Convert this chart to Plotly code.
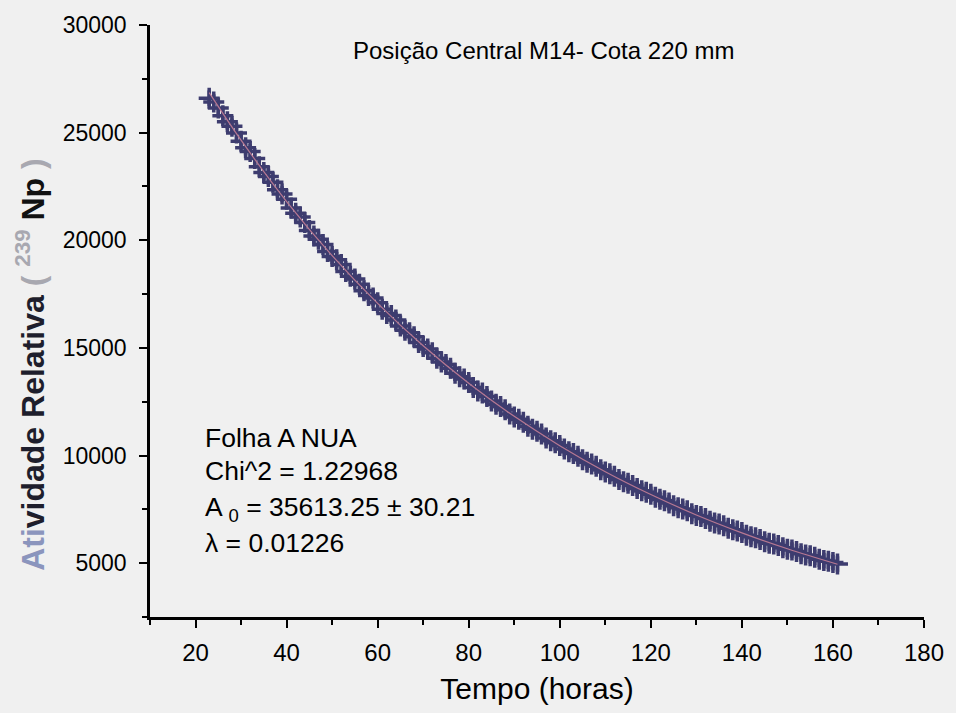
import plotly.graph_objects as go

# Measured data (Tempo in hours, relative activity)
tempo = [23, 24, 25, 26, 27, 28, 29, 30, 31, 32, 33, 34, 35, 36, 37, 38, 39, 40, 41, 42,
         43, 44, 45, 46, 47, 48, 49, 50, 51, 52, 53, 54, 55, 56, 57, 58, 59, 60, 61, 62,
         63, 64, 65, 66, 67, 68, 69, 70, 71, 72, 73, 74, 75, 76, 77, 78, 79, 80, 81, 82,
         83, 84, 85, 86, 87, 88, 89, 90, 91, 92, 93, 94, 95, 96, 97, 98, 99, 100, 101, 102,
         103, 104, 105, 106, 107, 108, 109, 110, 111, 112, 113, 114, 115, 116, 117, 118, 119, 120, 121, 122,
         123, 124, 125, 126, 127, 128, 129, 130, 131, 132, 133, 134, 135, 136, 137, 138, 139, 140, 141, 142,
         143, 144, 145, 146, 147, 148, 149, 150, 151, 152, 153, 154, 155, 156, 157, 158, 159, 160, 161]
atividade = [26600, 26420, 26150, 25780, 25500, 25300, 24980, 24600, 24300, 24120,
             23800, 23420, 23150, 22960, 22700, 22350, 22150, 21900, 21500, 21250,
             21080, 20820, 20450, 20200, 20050, 19800, 19480, 19250, 19100, 18870,
             18550, 18330, 18200, 17960, 17650, 17430, 17320, 17100, 16800, 16600,
             16500, 16300, 16020, 15820, 15700, 15520, 15250, 15060, 14950, 14780,
             14520, 14340, 14230, 14060, 13820, 13660, 13560, 13390, 13160, 13000,
             12900, 12740, 12530, 12380, 12280, 12130, 11930, 11790, 11690, 11550,
             11360, 11220, 11130, 11000, 10820, 10690, 10600, 10470, 10300, 10180,
             10090, 9970, 9810, 9690, 9610, 9500, 9340, 9230, 9150, 9040,
             8890, 8780, 8710, 8610, 8470, 8370, 8300, 8200, 8060, 7970,
             7900, 7800, 7670, 7580, 7520, 7430, 7300, 7220, 7170, 7080,
             6950, 6870, 6820, 6740, 6620, 6550, 6500, 6420, 6300, 6230,
             6180, 6100, 6000, 5930, 5890, 5820, 5720, 5650, 5610, 5540,
             5440, 5380, 5340, 5270, 5180, 5120, 5090, 5030, 4960]
erro = [360] * len(tempo)

# Fit curve
fit_t = [23, 30, 40, 50, 60, 70, 80, 90, 100, 110, 120, 130, 140, 150, 161]
fit_a = [26860, 24650, 21800, 19290, 17070, 15100, 13360, 11820, 10460, 9250, 8190, 7240, 6410, 5670, 4950]

x_ticks = [20, 40, 60, 80, 100, 120, 140, 160, 180]
y_ticks = [5000, 10000, 15000, 20000, 25000, 30000]
y_labels = ["5000", "10000", "15000", "20000", "25000", "30000"]

FONT = "Liberation Sans, Arial, sans-serif"
DATA_COLOR = "#3d3c6f"
FIT_COLOR = "#b77892"
BG = "#f0f0f0"

fig = go.Figure()
fig.add_trace(go.Scatter(
    x=tempo, y=atividade, mode="markers",
    marker=dict(symbol="cross-thin", size=15, line=dict(color=DATA_COLOR, width=3.5), color=DATA_COLOR),
    error_y=dict(type="data", array=erro, visible=True, color=DATA_COLOR, thickness=3.5, width=0),
    showlegend=False,
))
fig.add_trace(go.Scatter(
    x=fit_t, y=fit_a, mode="lines", line=dict(color=FIT_COLOR, width=1.2, shape="spline"),
    showlegend=False,
))

fig.update_layout(
    width=956, height=713,
    margin=dict(l=150, r=31, t=21, b=96),
    paper_bgcolor=BG, plot_bgcolor=BG,
    font=dict(family=FONT, color="black"),
    xaxis=dict(
        range=[10, 180], tickvals=x_ticks, showgrid=False, zeroline=False,
        showline=True, linecolor="black", linewidth=2.5,
        ticks="outside", ticklen=8, tickwidth=2, tickcolor="black",
        minor=dict(dtick=10, tick0=0, ticks="outside", ticklen=5, tickwidth=2, tickcolor="black"),
        tickfont=dict(size=24, family=FONT, color="black"), ticklabelstandoff=4,
        title=dict(text="Tempo (horas)", font=dict(size=30, family=FONT, color="black"), standoff=14),
    ),
    yaxis=dict(
        range=[2500, 30000], tickvals=y_ticks, ticktext=y_labels, showgrid=False, zeroline=False,
        showline=True, linecolor="black", linewidth=2.5,
        ticks="outside", ticklen=8, tickwidth=2, tickcolor="black",
        minor=dict(dtick=2500, tick0=0, ticks="outside", ticklen=5, tickwidth=2, tickcolor="black"),
        tickfont=dict(size=23, family=FONT, color="black"), ticklabelstandoff=8,
    ),
)

def px_x(px):
    return (px - 150) / 775.0

def px_y(py):
    return (617 - py) / 596.0

ytitle = ('<b><span style="color:#8b95bd">Ati</span><span style="color:#1e1e2c">vidade Relativa</span>'
          ' <span style="color:#a8a8b0">( <sup>239</sup></span> <span style="color:#111">Np</span>'
          ' <span style="color:#a8a8b0">)</span></b>')
fig.add_annotation(x=px_x(30), y=px_y(363), xref="paper", yref="paper", text=ytitle,
                   textangle=-90, showarrow=False, xanchor="center", yanchor="middle",
                   font=dict(size=32, family=FONT))

fig.add_annotation(x=px_x(545), y=px_y(47), xref="paper", yref="paper",
                   text="Posição Central M14- Cota 220 mm", showarrow=False,
                   xanchor="center", yanchor="middle", font=dict(size=24, family=FONT, color="black"))

lines = ["Folha A NUA", "Chi^2 = 1.22968", "A <sub>0</sub> = 35613.25 ± 30.21", "λ = 0.01226"]
ys = [437, 470, 508, 543]
for t, yy in zip(lines, ys):
    fig.add_annotation(x=px_x(203), y=px_y(yy), xref="paper", yref="paper", text=t,
                       showarrow=False, xanchor="left", yanchor="middle",
                       font=dict(size=26.5, family=FONT, color="black"))

fig.write_html("out.html")
